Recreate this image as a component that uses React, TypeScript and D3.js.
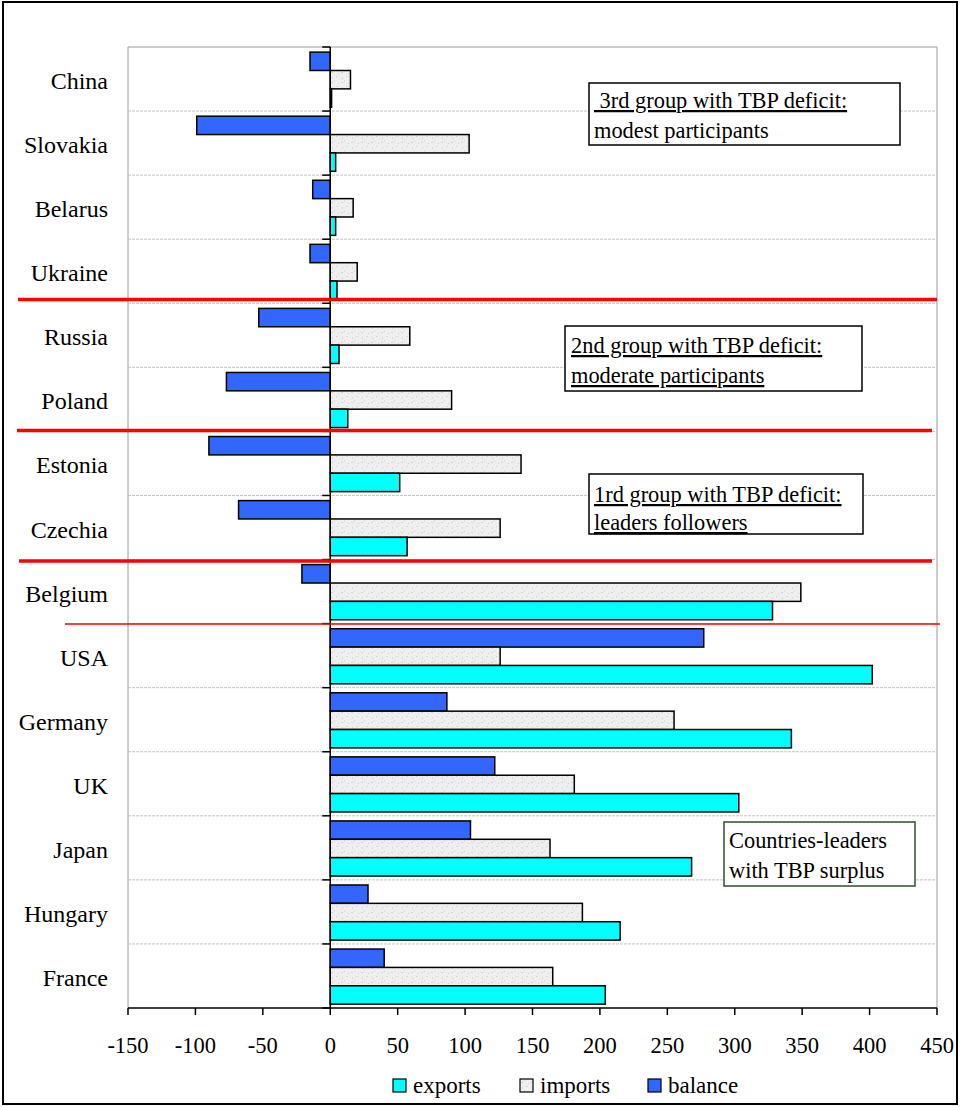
import React from "react";
import * as d3 from "d3";

const categories = ["China", "Slovakia", "Belarus", "Ukraine", "Russia", "Poland", "Estonia", "Czechia", "Belgium", "USA", "Germany", "UK", "Japan", "Hungary", "France"];
const exportsVals = [1, 4, 4, 5, 6.5, 13, 51.5, 57, 328, 402, 342, 303, 268, 215, 204];
const importsVals = [15, 103, 17, 20, 59, 90, 141.5, 126, 349, 126, 255, 181, 163, 187, 165];
const balanceVals = [-15, -99, -13, -15, -53, -77, -90, -68, -21, 277, 86.5, 122, 104, 28, 40];
const xTicks = [-150, -100, -50, 0, 50, 100, 150, 200, 250, 300, 350, 400, 450];
const seriesKeys = ["balance", "imports", "exports"];
const legendItems = [
  { key: "exports", label: "exports" },
  { key: "imports", label: "imports" },
  { key: "balance", label: "balance" },
];

const W = 960, H = 1107;
const FONT = "Liberation Serif, DejaVu Serif, serif";

export default function App() {
  const x = d3.scaleLinear().domain([-150, 450]).range([128, 937]);
  const y = d3.scaleBand().domain(categories).range([47, 1008]).paddingInner(0).paddingOuter(0);
  const bw = y.bandwidth();
  const sub = d3.scaleBand().domain(seriesKeys).range([bw * 0.08, bw * 0.94]);
  const x0 = x(0);

  const fills: Record<string, string> = { exports: "#00ffff", imports: "url(#impPat)", balance: "#3366ff" };
  const valuesFor: Record<string, number[]> = { exports: exportsVals, imports: importsVals, balance: balanceVals };

  const boundaries = d3.range(categories.length + 1).map((i) => 47 + i * bw);
  const ts = { fontFamily: FONT };
  const AF = 22.4;

  return (
    <svg width={W} height={H} style={{ position: "absolute", left: 0, top: 0, fontFamily: FONT }}>
      <defs>
        <pattern id="impPat" width="10" height="10" patternUnits="userSpaceOnUse">
          <rect width="10" height="10" fill="#efefef" />
          <rect x="1" y="2" width="2" height="1" fill="#d3d3d3" />
          <rect x="6" y="6" width="2" height="1" fill="#d8d8d8" />
          <rect x="4" y="0" width="1" height="2" fill="#dedede" />
          <rect x="8" y="3" width="1" height="1" fill="#cecece" />
          <rect x="2" y="7" width="1" height="2" fill="#dadada" />
        </pattern>
      </defs>
      <rect x={0} y={0} width={W} height={H} fill="#fff" />
      <rect x={3} y={2} width={954} height={1102} fill="none" stroke="#000" strokeWidth={2} />

      <line x1={128} x2={937} y1={47} y2={47} stroke="#9a9a9a" strokeWidth={1} />
      <line x1={128} x2={128} y1={47} y2={1008} stroke="#9a9a9a" strokeWidth={1} />
      <line x1={937} x2={937} y1={47} y2={1008} stroke="#9a9a9a" strokeWidth={1} />

      {boundaries.slice(1, -1).map((b, i) => (
        <line key={"g" + i} x1={128} x2={937} y1={b} y2={b} stroke="#c4c4c4" strokeWidth={1} strokeDasharray="3,1" />
      ))}

      {categories.map((c, i) => (
        <g key={c}>
          {seriesKeys.map((k) => {
            const v = valuesFor[k][i];
            const xa = Math.min(x(0), x(v));
            const w = Math.abs(x(v) - x(0));
            return (
              <rect key={k} x={xa} y={(y(c) as number) + (sub(k) as number)} width={Math.max(w, 0.5)} height={sub.bandwidth()}
                fill={fills[k]} stroke="#000" strokeWidth={1.5} />
            );
          })}
        </g>
      ))}

      <line x1={x0} x2={x0} y1={47} y2={1008} stroke="#000" strokeWidth={1.5} />
      {boundaries.map((b, i) => (
        <line key={"t" + i} x1={x0 - 8} x2={x0} y1={b} y2={b} stroke="#000" strokeWidth={1.5} />
      ))}

      {categories.map((c) => (
        <text key={"l" + c} x={108} y={(y(c) as number) + bw / 2 + 10} textAnchor="end" fontSize={24} fill="#000" style={ts}>{c}</text>
      ))}

      <line x1={128} x2={937} y1={1008} y2={1008} stroke="#000" strokeWidth={1.5} />
      {xTicks.map((t) => (
        <g key={"x" + t}>
          <line x1={x(t)} x2={x(t)} y1={1008} y2={1015} stroke="#000" strokeWidth={1.5} />
          <text x={x(t)} y={1053} textAnchor="middle" fontSize={22.5} fill="#000" style={ts}>{t}</text>
        </g>
      ))}

      <line x1={18} x2={937} y1={299.5} y2={299.5} stroke="#ff0000" strokeWidth={3.5} />
      <line x1={17} x2={932} y1={430.5} y2={430.5} stroke="#ff0000" strokeWidth={3.5} />
      <line x1={19} x2={932} y1={561} y2={561} stroke="#ff0000" strokeWidth={3.5} />
      <line x1={65} x2={940} y1={624} y2={624} stroke="#ff0000" strokeWidth={1.5} />

      <rect x={589} y={83} width={311} height={62} fill="#fff" stroke="#000" strokeWidth={1.5} />
      <text x={594} y={108} fontSize={AF} fill="#000" style={{ ...ts, whiteSpace: "pre", textDecoration: "underline" }}>{" 3rd group with TBP deficit:"}</text>
      <text x={594} y={138} fontSize={AF} fill="#000" style={ts}>modest participants</text>

      <rect x={565} y={326} width={297} height={65} fill="#fff" stroke="#000" strokeWidth={1.5} />
      <text x={571} y={353} fontSize={AF} fill="#000" style={{ ...ts, textDecoration: "underline" }}>2nd group with TBP deficit:</text>
      <text x={571} y={383} fontSize={AF} fill="#000" style={{ ...ts, textDecoration: "underline" }}>moderate participants</text>

      <rect x={589} y={474} width={274} height={60} fill="#fff" stroke="#000" strokeWidth={1.5} />
      <text x={594} y={502} fontSize={AF} fill="#000" style={{ ...ts, textDecoration: "underline" }}>1rd group with TBP deficit:</text>
      <text x={594} y={530} fontSize={AF} fill="#000" style={{ ...ts, textDecoration: "underline" }}>leaders followers</text>

      <rect x={724} y={822} width={191} height={64} fill="#fff" stroke="#2e4f2e" strokeWidth={1.5} />
      <text x={729} y={848} fontSize={AF} fill="#000" style={ts}>Countries-leaders</text>
      <text x={729} y={878} fontSize={AF} fill="#000" style={ts}>with TBP surplus</text>

      {legendItems.map((it, i) => {
        const lx = [393, 520, 648][i];
        return (
          <g key={"lg" + it.key}>
            <rect x={lx} y={1079} width={13} height={13} fill={fills[it.key]} stroke="#000" strokeWidth={1.2} />
            <text x={lx + 20} y={1093} fontSize={23} fill="#000" style={ts}>{it.label}</text>
          </g>
        );
      })}
    </svg>
  );
}
